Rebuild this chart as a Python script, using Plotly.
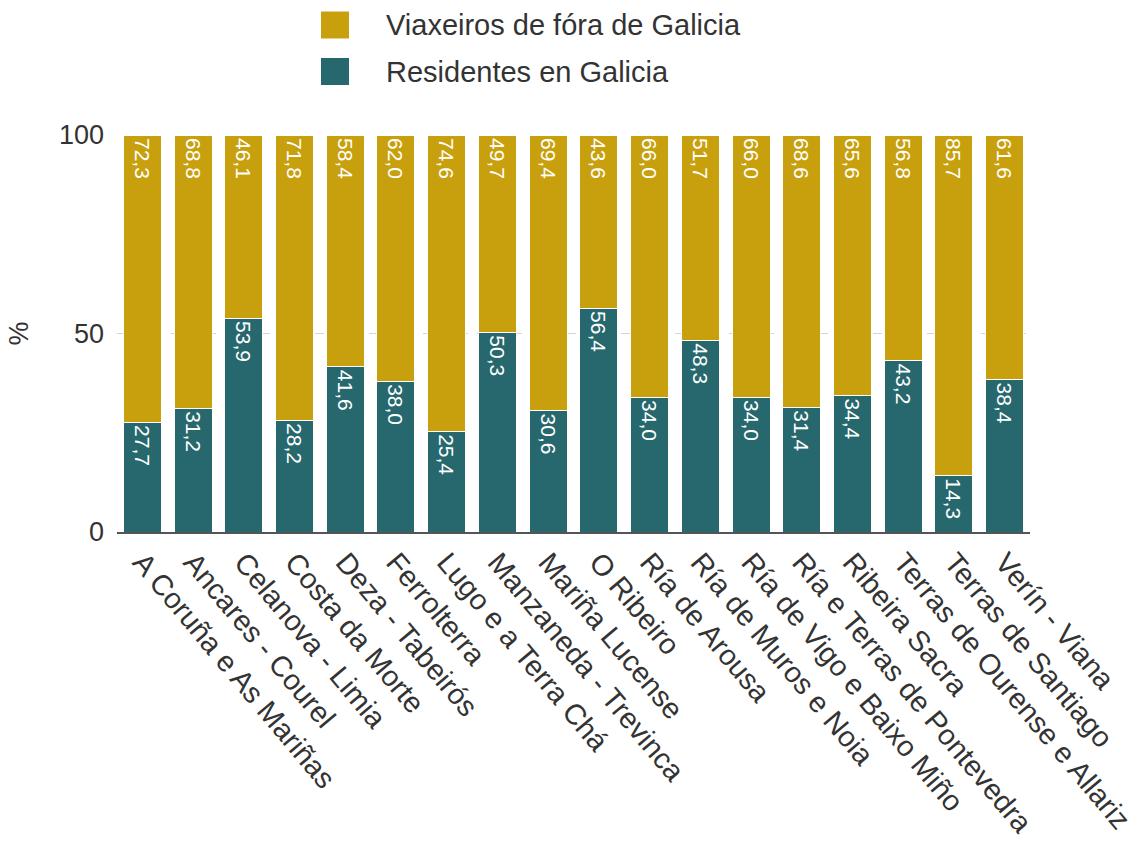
import plotly.graph_objects as go

categories = [
    "A Coruña e As Mariñas", "Ancares - Courel", "Celanova - Limia", "Costa da Morte",
    "Deza - Tabeirós", "Ferrolterra", "Lugo e a Terra Chá", "Manzaneda - Trevinca",
    "Mariña Lucense", "O Ribeiro", "Ría de Arousa", "Ría de Muros e Noia",
    "Ría de Vigo e Baixo Miño", "Ría e Terras de Pontevedra", "Ribeira Sacra",
    "Terras de Ourense e Allariz", "Terras de Santiago", "Verín - Viana",
]
residentes = [27.7, 31.2, 53.9, 28.2, 41.6, 38.0, 25.4, 50.3, 30.6, 56.4,
              34.0, 48.3, 34.0, 31.4, 34.4, 43.2, 14.3, 38.4]
viaxeiros = [72.3, 68.8, 46.1, 71.8, 58.4, 62.0, 74.6, 49.7, 69.4, 43.6,
             66.0, 51.7, 66.0, 68.6, 65.6, 56.8, 85.7, 61.6]
series_names = ["Residentes en Galicia", "Viaxeiros de fóra de Galicia"]
y_ticks = [0, 50, 100]

TEAL = "#26686D"
GOLD = "#C8A00E"
FONT = "Liberation Sans, Arial, sans-serif"
TXT = "#333333"

W, H = 1138, 842
ML, MR, MT, MB = 117, 108, 135, 310
PW, PH = W - ML - MR, H - MT - MB

fig = go.Figure()
for name, vals, col in [(series_names[0], residentes, TEAL), (series_names[1], viaxeiros, GOLD)]:
    fig.add_trace(go.Bar(
        x=categories, y=vals, name=name,
        marker=dict(color=col, line=dict(color="white", width=1)),
        texttemplate="%{y:.1f}", textposition="inside", insidetextanchor="end",
        textangle=90, textfont=dict(color="white", size=21, family=FONT),
        showlegend=False,
    ))

# legend drawn manually (large square symbols)
def px_x(p):
    return (p - ML) / PW

def px_y(p):
    return (H - MB - p) / PH

legend_items = [(series_names[1], GOLD, 25), (series_names[0], TEAL, 71.5)]
for name, col, cy in legend_items:
    fig.add_shape(type="rect", xref="paper", yref="paper",
                  x0=px_x(321), x1=px_x(349), y0=px_y(cy - 13.5), y1=px_y(cy + 13.5),
                  fillcolor=col, line=dict(width=0))
    fig.add_annotation(text=name, xref="paper", yref="paper", x=px_x(384), y=px_y(cy),
                       xanchor="left", yanchor="middle", showarrow=False,
                       font=dict(size=29, family=FONT, color=TXT))

fig.update_layout(
    barmode="stack", bargap=0.25,
    width=W, height=H,
    margin=dict(l=ML, r=MR, t=MT, b=MB, autoexpand=False),
    paper_bgcolor="white", plot_bgcolor="white",
    separators=", ",
    font=dict(family=FONT, color=TXT, size=26),
    uniformtext=dict(minsize=8, mode="show"),
)
fig.update_xaxes(
    type="category", tickangle=50, tickfont=dict(size=29, family=FONT, color=TXT),
    showline=True, linecolor="#555555", linewidth=1.5, ticks="", showgrid=False,
    automargin=False,
)
fig.update_yaxes(
    range=[0, 100], tickvals=y_ticks, ticktext=[str(t) for t in y_ticks],
    tickfont=dict(size=27, family=FONT, color=TXT),
    showgrid=True, gridcolor="#d4d4d4", griddash="dash", gridwidth=1,
    zeroline=False, ticks="", ticklabelstandoff=12,
    title=dict(text="%", font=dict(size=27, family=FONT, color=TXT), standoff=22),
    automargin=False,
)

fig.write_html("out.html")
